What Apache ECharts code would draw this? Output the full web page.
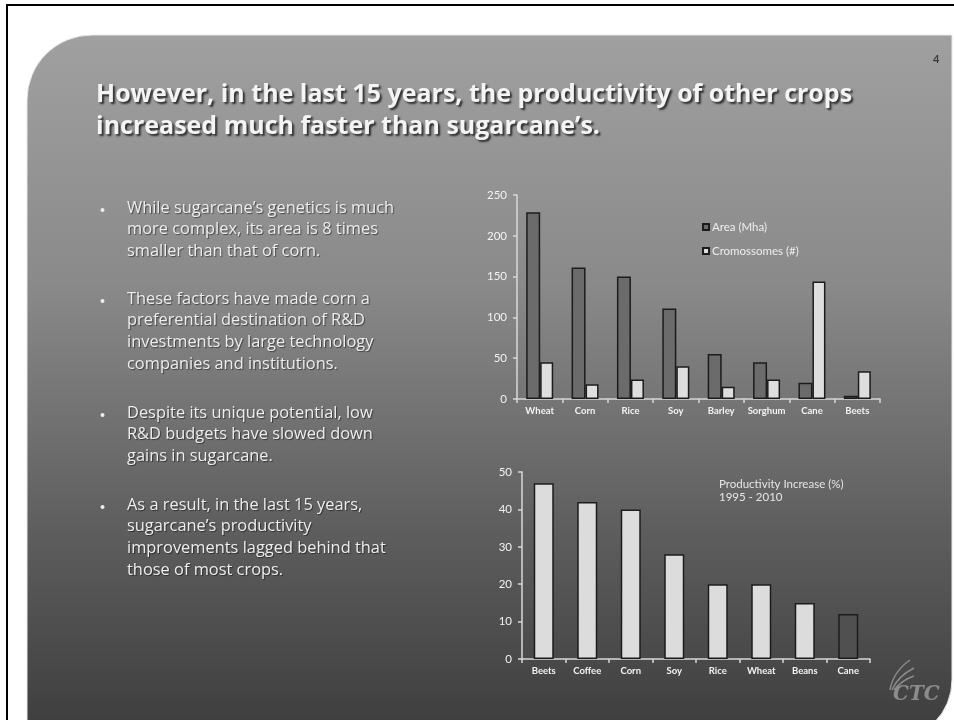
<!DOCTYPE html>
<html>
<head>
<meta charset="utf-8">
<script src="https://cdn.jsdelivr.net/npm/echarts@6/dist/echarts.min.js"></script>
<style>
  html, body { margin: 0; padding: 0; background: #fff; }
  #main { width: 954px; height: 720px; }
</style>
</head>
<body>
<div id="main"></div>
<script>
// top chart data
const cropNames = ['Wheat', 'Corn', 'Rice', 'Soy', 'Barley', 'Sorghum', 'Cane', 'Beets']
const areaMha = [229, 161, 150, 111, 55, 45, 20, 4]
const chromosomes = [45, 18, 24, 40, 15, 24, 144, 34]

// bottom chart data
const prodCrops = ['Beets', 'Coffee', 'Corn', 'Soy', 'Rice', 'Wheat', 'Beans', 'Cane']
const prodIncrease = [47, 42, 40, 28, 20, 20, 15, 12]

// slide texts
const titleLines = [
  'However, in the last 15 years, the productivity of other crops',
  'increased much faster than sugarcane\u2019s.'
]
const bullets = [
  ['While sugarcane\u2019s genetics is much', 'more complex, its area is 8 times', 'smaller than that of corn.'],
  ['These factors have made corn a', 'preferential destination of R&D', 'investments by large technology', 'companies and institutions.'],
  ['Despite its unique potential, low', 'R&D budgets have slowed down', 'gains in sugarcane.'],
  ['As a result, in the last 15 years,', 'sugarcane\u2019s productivity', 'improvements lagged behind that', 'those of most crops.']
]

const chart = echarts.init(document.getElementById('main'))

const FONT = 'Lato, "Open Sans", sans-serif'
const BODY_FONT = '"Open Sans", Lato, sans-serif'
const labelColor = '#f2f2f2'
const axisColor = '#d8d8d8'

// 幻灯片背景 + 文字
const graphics = [
  {
    type: 'rect',
    shape: { x: 7, y: 5, width: 960, height: 730 },
    style: { fill: '#fff', stroke: '#000', lineWidth: 2 },
    z: -10
  },
  {
    type: 'rect',
    shape: { x: 27, y: 35, width: 925, height: 705, r: [65, 0, 60, 0] },
    style: {
      fill: new echarts.graphic.LinearGradient(0, 0, 0, 1, [
        { offset: 0, color: '#a0a0a0' },
        { offset: 0.35, color: '#8a8a8a' },
        { offset: 0.7, color: '#5e5e5e' },
        { offset: 1, color: '#3c3c3c' }
      ]),
      stroke: '#e8e8e8',
      lineWidth: 1
    },
    z: -9
  },
  {
    type: 'text',
    x: 933, y: 54,
    style: { text: '4', fill: '#3a3a3a', font: 'bold 11px ' + FONT }
  }
]

titleLines.forEach((t, i) => {
  graphics.push({
    type: 'text',
    x: 96, y: 82 + i * 32,
    style: {
      text: t,
      fill: '#f4f4f4',
      font: 'bold 25px ' + BODY_FONT,
      textShadowColor: 'rgba(0,0,0,0.7)',
      textShadowOffsetX: 2,
      textShadowOffsetY: 2,
      textShadowBlur: 2
    }
  })
})

const bulletTops = [200, 291, 405, 497]
bullets.forEach((lines, bi) => {
  graphics.push({
    type: 'circle',
    shape: { cx: 102.5, cy: bulletTops[bi] + 10, r: 2 },
    style: { fill: '#eeeeee' }
  })
  lines.forEach((t, li) => {
    graphics.push({
      type: 'text',
      x: 127, y: bulletTops[bi] + li * 21.8,
      style: {
        text: t,
        fill: '#eeeeee',
        font: '16.4px ' + BODY_FONT,
        textShadowColor: 'rgba(0,0,0,0.5)',
        textShadowOffsetX: 1,
        textShadowOffsetY: 1,
        textShadowBlur: 1
      }
    })
  })
})

// 下方图表的说明文字
graphics.push({
  type: 'text',
  x: 719, y: 478,
  style: {
    text: 'Productivity Increase (%)\n1995 - 2010',
    fill: '#e6e6e6',
    font: '11.5px ' + FONT,
    lineHeight: 13
  }
})

// CTC logo
graphics.push(
  {
    type: 'text',
    x: 893, y: 685,
    style: { text: 'CTC', fill: '#8c8c8c', font: 'italic bold 20px "DejaVu Serif", serif' }
  },
  {
    type: 'bezierCurve',
    shape: { x1: 890, y1: 690, x2: 910, y2: 660, cpx1: 893, cpy1: 672 },
    style: { stroke: '#8c8c8c', lineWidth: 1.5, fill: null }
  },
  {
    type: 'bezierCurve',
    shape: { x1: 892, y1: 690, x2: 914, y2: 668, cpx1: 898, cpy1: 676 },
    style: { stroke: '#8c8c8c', lineWidth: 1.5, fill: null }
  },
  {
    type: 'bezierCurve',
    shape: { x1: 894, y1: 690, x2: 914, y2: 676, cpx1: 902, cpy1: 680 },
    style: { stroke: '#8c8c8c', lineWidth: 1.5, fill: null }
  }
)

const axisCommon = {
  axisLine: { show: true, lineStyle: { color: axisColor, width: 1.5 } },
  axisTick: { show: true, lineStyle: { color: axisColor, width: 1.5 }, length: 4 },
  splitLine: { show: false }
}
const xLabel = { color: labelColor, fontSize: 9.5, fontWeight: 'bold', margin: 7, interval: 0 }
const yLabel = { color: labelColor, fontSize: 11.5, margin: 10 }

const option = {
  animation: false,
  textStyle: { fontFamily: FONT },
  graphic: graphics,
  legend: {
    orient: 'vertical',
    left: 697,
    top: 216,
    icon: 'rect',
    itemWidth: 6,
    itemHeight: 6,
    itemGap: 12,
    textStyle: { color: '#eeeeee', fontSize: 11.5, fontFamily: FONT, padding: [0, 0, 0, -2] },
    data: ['Area (Mha)', 'Cromossomes (#)']
  },
  grid: [
    { left: 517, top: 195, width: 363, height: 204 },
    { left: 522, top: 472, width: 348, height: 187 }
  ],
  xAxis: [
    { type: 'category', gridIndex: 0, data: cropNames, ...axisCommon, axisLabel: xLabel },
    { type: 'category', gridIndex: 1, data: prodCrops, ...axisCommon, axisLabel: xLabel }
  ],
  yAxis: [
    { type: 'value', gridIndex: 0, min: 0, max: 250, interval: 50, ...axisCommon, axisLabel: yLabel },
    { type: 'value', gridIndex: 1, min: 0, max: 50, interval: 10, ...axisCommon, axisLabel: yLabel }
  ],
  series: [
    {
      name: 'Area (Mha)',
      type: 'bar',
      xAxisIndex: 0, yAxisIndex: 0,
      data: areaMha,
      barWidth: 14,
      barGap: '0%',
      itemStyle: { color: '#6b6b6b', borderColor: '#1c1c1c', borderWidth: 1.5 }
    },
    {
      name: 'Cromossomes (#)',
      type: 'bar',
      xAxisIndex: 0, yAxisIndex: 0,
      data: chromosomes,
      barWidth: 13,
      barGap: '0%',
      itemStyle: { color: '#dedede', borderColor: '#1c1c1c', borderWidth: 1.5 }
    },
    {
      name: 'Productivity Increase (%)',
      type: 'bar',
      xAxisIndex: 1, yAxisIndex: 1,
      barWidth: 20,
      data: prodIncrease.map((v, i) => ({
        value: v,
        itemStyle: { color: prodCrops[i] === 'Cane' ? '#505050' : '#dcdcdc' }
      })),
      itemStyle: { borderColor: '#1c1c1c', borderWidth: 1.5 }
    }
  ]
}

chart.setOption(option)
</script>
</body>
</html>
